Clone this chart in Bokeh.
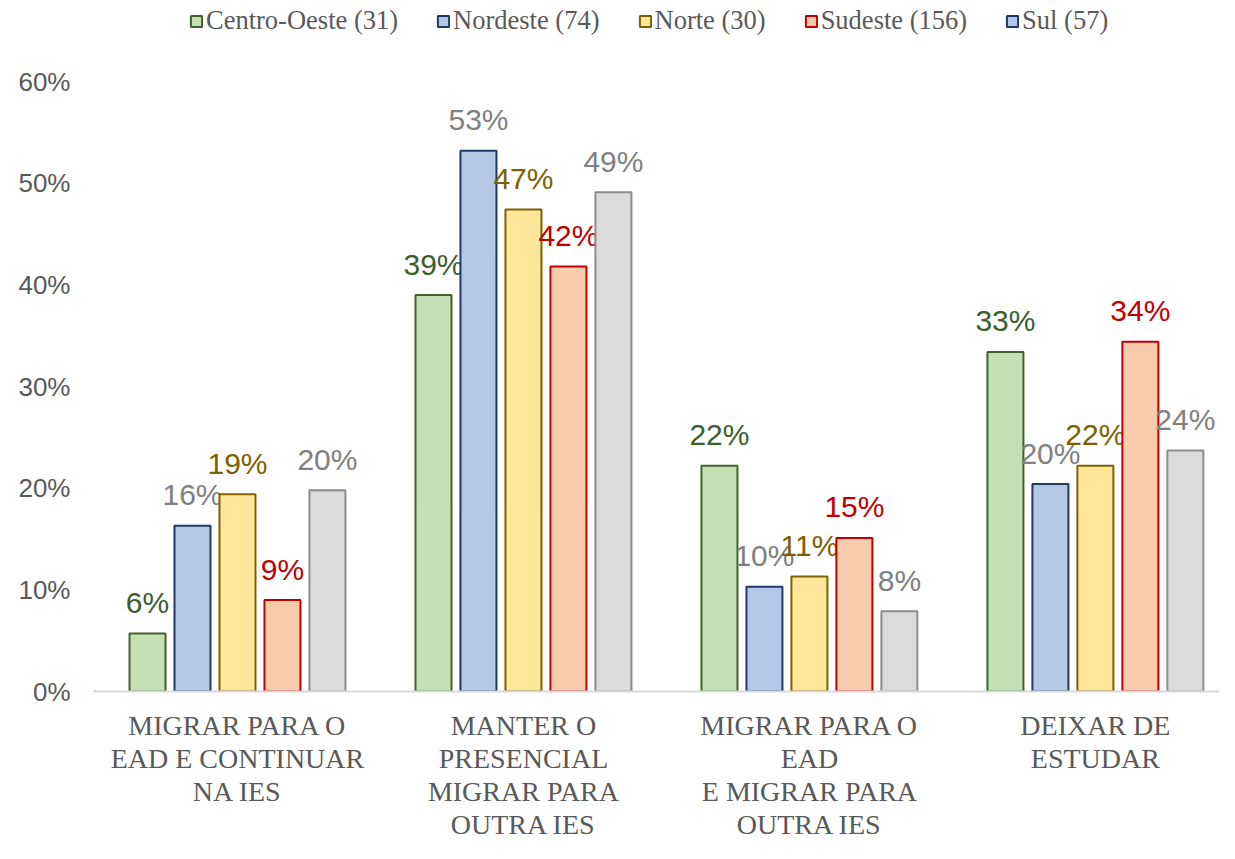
from bokeh.plotting import figure
from bokeh.models import (ColumnDataSource, Range1d, FixedTicker, NumeralTickFormatter,
                          Legend, LegendItem)
from bokeh.embed import file_html
from bokeh.resources import INLINE
from bokeh.core.properties import value

categories = ["MIGRAR PARA O\nEAD E CONTINUAR\nNA IES",
              "MANTER O\nPRESENCIAL\nMIGRAR PARA\nOUTRA IES",
              "MIGRAR PARA O\nEAD\nE MIGRAR PARA\nOUTRA IES",
              "DEIXAR DE\nESTUDAR"]
series_names = ["Centro-Oeste (31)", "Nordeste (74)", "Norte (30)", "Sudeste (156)", "Sul (57)"]
centro_oeste = [0.057, 0.390, 0.222, 0.334]
nordeste = [0.163, 0.532, 0.103, 0.204]
norte = [0.194, 0.474, 0.113, 0.222]
sudeste = [0.090, 0.418, 0.151, 0.344]
sul = [0.198, 0.491, 0.079, 0.237]
label_text = [["6%", "39%", "22%", "33%"],
              ["16%", "53%", "10%", "20%"],
              ["19%", "47%", "11%", "22%"],
              ["9%", "42%", "15%", "34%"],
              ["20%", "49%", "8%", "24%"]]
y_ticks = [0, 0.1, 0.2, 0.3, 0.4, 0.5, 0.6]

series_vals = [centro_oeste, nordeste, norte, sudeste, sul]
fills = ["#C5E0B4", "#B4C7E7", "#FFE699", "#F8CBAD", "#DBDBDB"]
lines = ["#41622A", "#203864", "#7F6000", "#C00000", "#8C8C8C"]
label_colors = ["#3B5E2B", "#808080", "#7F6000", "#C00000", "#808080"]
legend_fills = ["#C5E0B4", "#B4C7E7", "#FFE699", "#F8CBAD", "#B4C7E7"]
legend_lines = ["#41622A", "#203864", "#7F6000", "#C00000", "#203864"]

BOTTOM = 152
FRAME_H = 843 - BOTTOM
TOP_PAD = 81
p = figure(width=1219, height=843, output_backend="svg", toolbar_location=None,
           x_range=Range1d(-0.5, 3.434),
           y_range=Range1d(0, 0.6 * FRAME_H / (FRAME_H - TOP_PAD)),
           min_border_left=94, min_border_right=0, min_border_top=0, min_border_bottom=BOTTOM)
p.outline_line_color = None
p.grid.visible = False
p.background_fill_color = "white"

step = 0.1573
bw = 0.1259
items = []
for i, (name, vals) in enumerate(zip(series_names, series_vals)):
    xs = [k + (i - 2) * step for k in range(len(categories))]
    src = ColumnDataSource(dict(x=xs, top=vals, lab=label_text[i]))
    p.vbar(x="x", top="top", width=bw, source=src, fill_color=fills[i],
           line_color=lines[i], line_width=2)
    p.text(x="x", y="top", text="lab", source=src, text_align="center",
           text_baseline="alphabetic", y_offset=-31, text_font=value("Liberation Sans"),
           text_font_size="30px", text_color=label_colors[i])
    # off-screen proxy so the legend swatch can carry its own colours
    proxy = p.vbar(x=[-10], top=[0], width=bw, fill_color=legend_fills[i],
                   line_color=legend_lines[i], line_width=2)
    items.append(LegendItem(label=name, renderers=[proxy]))

legend = Legend(items=items, orientation="horizontal", location=(95, FRAME_H - 36),
                label_text_font="Liberation Serif", label_text_font_size="26.5px",
                label_text_color="#595959", glyph_width=14, glyph_height=14,
                label_standoff=3, spacing=38, padding=0, margin=0,
                border_line_color=None, background_fill_alpha=0)
p.add_layout(legend, "center")

p.yaxis.ticker = FixedTicker(ticks=y_ticks)
p.yaxis.formatter = NumeralTickFormatter(format="0%")
p.yaxis.axis_line_color = None
p.yaxis.major_tick_line_color = None
p.yaxis.minor_tick_line_color = None
p.yaxis.major_label_text_font = "Liberation Sans"
p.yaxis.major_label_text_font_size = "26px"
p.yaxis.major_label_text_color = "#595959"
p.yaxis.major_label_standoff = 18

p.xaxis.ticker = FixedTicker(ticks=[0, 1, 2, 3])
p.xaxis.major_label_overrides = {k: c for k, c in enumerate(categories)}
p.xaxis.axis_line_color = "#D9D9D9"
p.xaxis.axis_line_width = 2
p.xaxis.major_tick_line_color = None
p.xaxis.minor_tick_line_color = None
p.xaxis.major_label_text_font = "Liberation Serif"
p.xaxis.major_label_text_font_size = "28px"
p.xaxis.major_label_text_color = "#595959"
p.xaxis.major_label_standoff = 12
p.xaxis.major_label_text_line_height = 1.065

open("out.html", "w").write(file_html(p, INLINE))
